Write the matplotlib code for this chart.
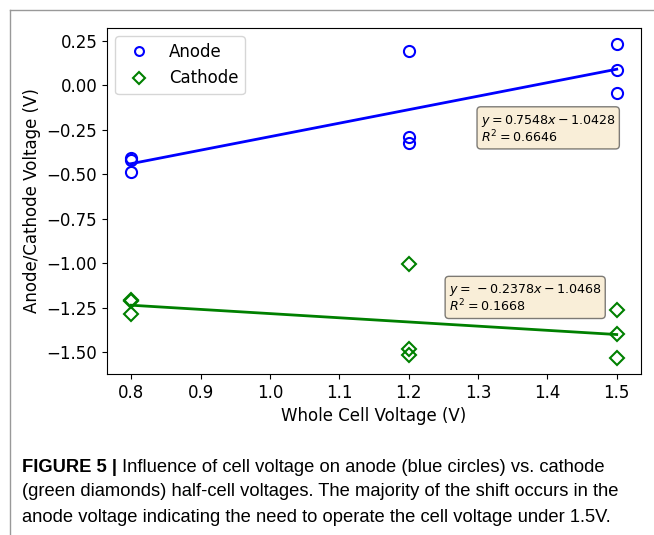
from matplotlib import pyplot as plt
from matplotlib.lines import Line2D
import numpy as np

# whole cell voltage for each measurement
cell_v = [0.8, 0.8, 0.8, 1.2, 1.2, 1.2, 1.5, 1.5, 1.5]

anode_v = [-0.41, -0.42, -0.485, 0.192, -0.292, -0.326, 0.233, 0.088, -0.043]
cathode_v = [-1.206, -1.21, -1.284, -1.002, -1.483, -1.515, -1.262, -1.397, -1.533]

anode_eq = '$y = 0.7548x - 1.0428$\n$R^2 = 0.6646$'
cathode_eq = '$y = \\,-0.2378x - 1.0468$\n$R^2 = 0.1668$'

caption_bold = 'FIGURE 5 |'
caption_lines = ['Influence of cell voltage on anode (blue circles) vs. cathode',
                 '(green diamonds) half-cell voltages. The majority of the shift occurs in the',
                 'anode voltage indicating the need to operate the cell voltage under 1.5V.']

W, H = 654, 535
fig = plt.figure(figsize=(W / 100, H / 100), dpi=100)
ax = fig.add_axes([107 / W, 1 - 374 / H, 534 / W, 346 / H])

x = np.array(cell_v)
ax.plot(x, anode_v, 'o', mfc='none', mec='b', ms=8, mew=1.5, label='Anode')
ax.plot(x, cathode_v, 'D', mfc='none', mec='g', ms=7.5, mew=1.5, label='Cathode')

# linear fits
xs = np.unique(x)
pa = np.polyfit(x, anode_v, 1)
pc = np.polyfit(x, cathode_v, 1)
ax.plot(xs, np.polyval(pa, xs), color='b', lw=2)
ax.plot(xs, np.polyval(pc, xs), color='g', lw=2)

props = dict(boxstyle='round', facecolor='wheat', alpha=0.5)
ax.text(1.304, -0.245, anode_eq, fontsize=9.1, va='center', ha='left', bbox=props, linespacing=1.0)
ax.text(1.258, -1.197, cathode_eq, fontsize=9.1, va='center', ha='left', bbox=props, linespacing=1.0)

ax.set_xlabel('Whole Cell Voltage (V)', fontsize=12)
ax.set_ylabel('Anode/Cathode Voltage (V)', fontsize=12)
ax.tick_params(labelsize=12)
ax.legend(loc='upper left', fontsize=12, markerscale=0.8)

# caption under the chart
cap_font = ['Liberation Sans Narrow', 'Liberation Sans', 'DejaVu Sans']
cap_size = 13.2
t0 = fig.text(22 / W, 1 - 467 / H, caption_bold, fontsize=cap_size, fontweight='bold',
              family=cap_font, va='center')
r = fig.canvas.get_renderer()
x1 = t0.get_window_extent(r).x1 + 5
fig.text(x1 / W, 1 - 467 / H, caption_lines[0], fontsize=cap_size, family=cap_font, va='center')
fig.text(22 / W, 1 - 492 / H, caption_lines[1], fontsize=cap_size, family=cap_font, va='center')
fig.text(22 / W, 1 - 518 / H, caption_lines[2], fontsize=cap_size, family=cap_font, va='center')

# page frame
fig.add_artist(Line2D([10 / W, 1], [1 - 10 / H, 1 - 10 / H], color='#999999', lw=1))
fig.add_artist(Line2D([10 / W, 10 / W], [0, 1 - 10 / H], color='#999999', lw=1))

fig.savefig('out.png', dpi=100)
